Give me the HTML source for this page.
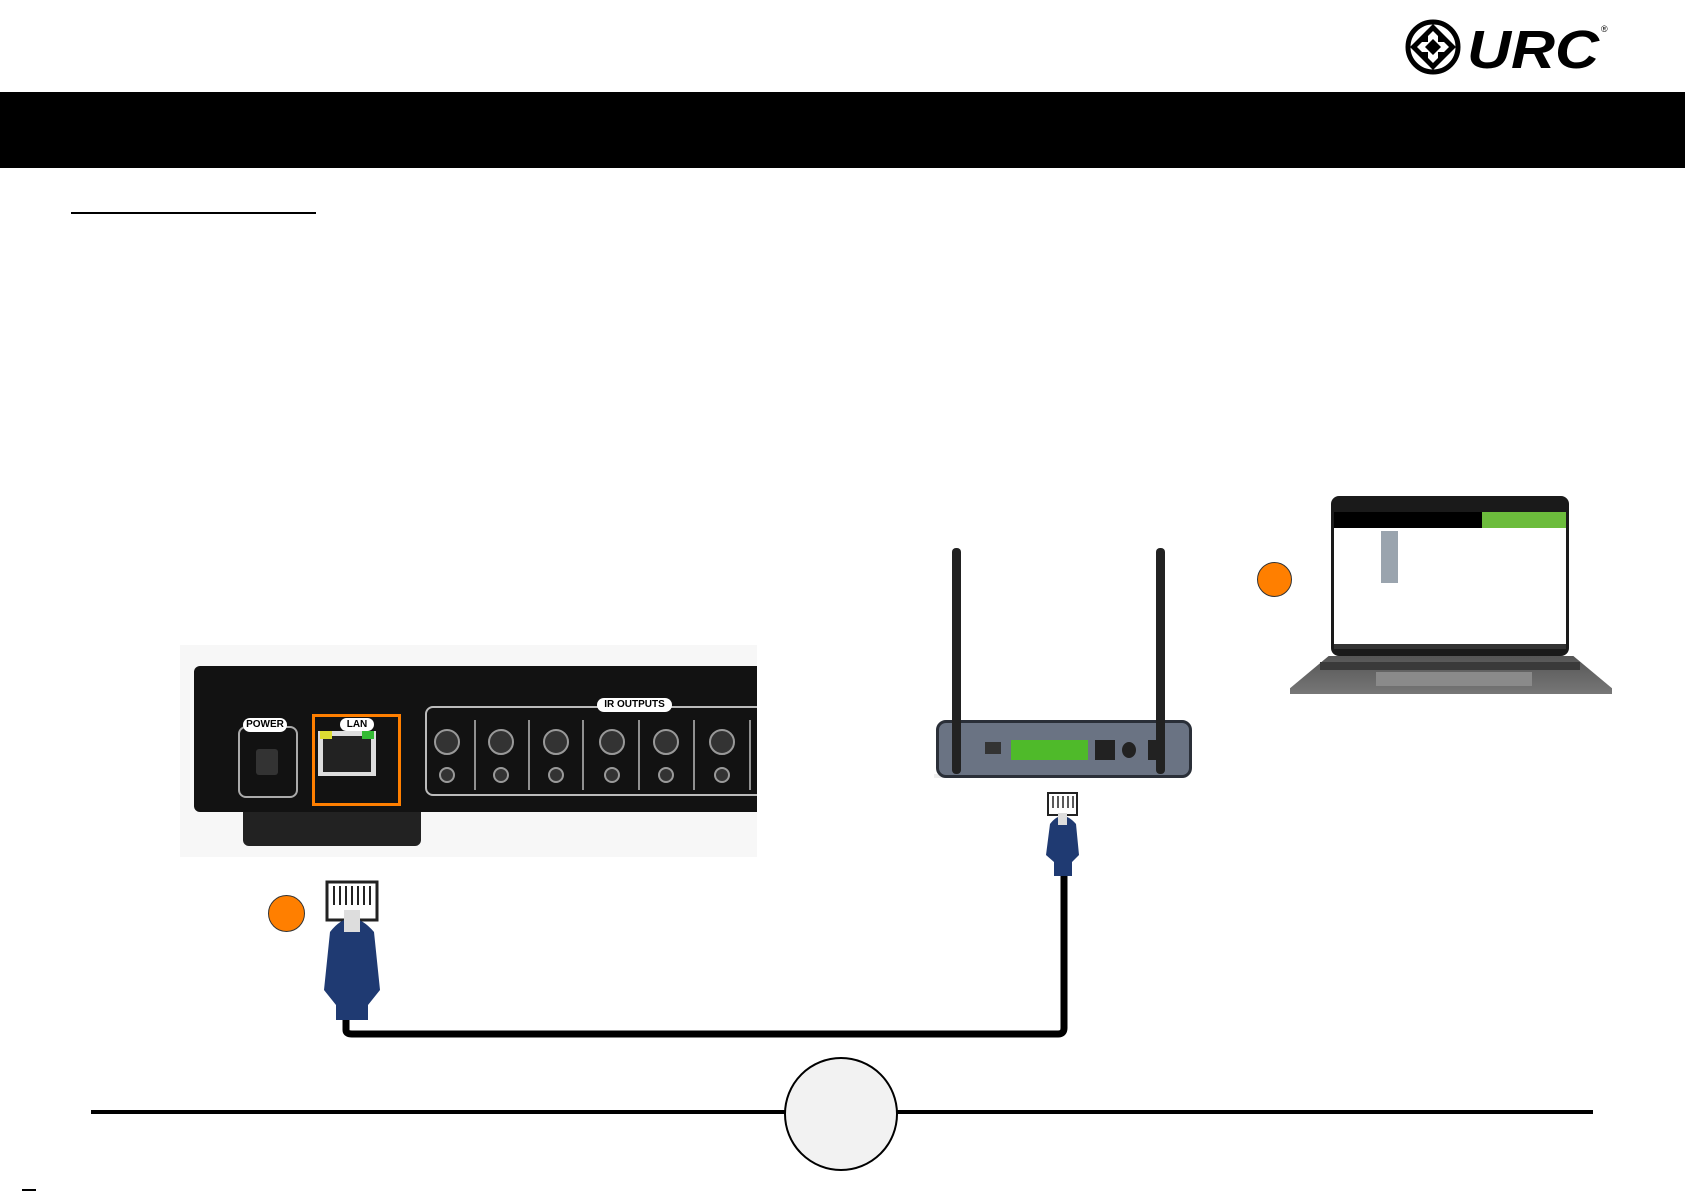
<!DOCTYPE html>
<html><head><meta charset="utf-8"><style>
body{margin:0;width:1685px;height:1192px;background:#fff;position:relative;overflow:hidden;font-family:"Liberation Sans",sans-serif}
.a{position:absolute}
</style></head><body>
<!-- logo -->
<svg class="a" style="left:1405px;top:18px" width="220" height="58" viewBox="0 0 220 58">
<circle cx="28" cy="29" r="25" fill="none" stroke="#000" stroke-width="5"/>
<polygon points="28,6 51,29 28,52 5,29" fill="#000"/>
<polygon points="28,13 44,29 28,45 12,29" fill="#fff"/>
<polygon points="28,21 36,29 28,37 20,29" fill="#000"/>
<rect x="17" y="18" width="6" height="6"/><rect x="33" y="18" width="6" height="6"/><rect x="17" y="34" width="6" height="6"/><rect x="33" y="34" width="6" height="6"/>
<text x="62" y="50" font-size="54" font-weight="bold" font-style="italic" font-family="Liberation Sans" textLength="132" lengthAdjust="spacingAndGlyphs">URC</text>
<text x="196" y="14" font-size="9">®</text>
</svg>
<div class="a" style="left:0;top:92px;width:1685px;height:76px;background:#000"></div>
<div class="a" style="left:71px;top:212px;width:245px;height:2px;background:#000"></div>

<!-- device -->
<div class="a" style="left:180px;top:645px;width:577px;height:212px;background:#f7f7f7;overflow:hidden">
<div class="a" style="left:63px;top:165px;width:178px;height:36px;background:#222;border-radius:0 0 6px 6px"></div>
<div class="a" style="left:14px;top:21px;width:563px;height:146px;background:#121212;border-radius:6px 0 0 6px"></div>
<div class="a" style="left:58px;top:81px;width:56px;height:68px;border:2px solid #aaa;border-radius:8px"></div>
<div class="a" style="left:76px;top:104px;width:22px;height:26px;background:#333;border-radius:3px"></div>
<div class="a" style="left:63px;top:73px;width:44px;height:14px;background:#fff;border-radius:7px;font-size:10px;font-weight:bold;text-align:center;line-height:14px">POWER</div>
<div class="a" style="left:132px;top:69px;width:83px;height:86px;border:3px solid #ff7f00"></div>
<div class="a" style="left:138px;top:86px;width:58px;height:45px;background:#ddd"></div>
<div class="a" style="left:143px;top:91px;width:48px;height:36px;background:#222"></div>
<div class="a" style="left:140px;top:86px;width:12px;height:8px;background:#dd3"></div>
<div class="a" style="left:182px;top:86px;width:12px;height:8px;background:#3b3"></div>
<div class="a" style="left:160px;top:73px;width:34px;height:13px;background:#fff;border-radius:7px;font-size:10px;font-weight:bold;text-align:center;line-height:13px">LAN</div>
<div class="a" style="left:245px;top:61px;width:380px;height:86px;border:2px solid #bbb;border-radius:8px"></div>
<div class="a" style="left:417px;top:53px;width:75px;height:14px;background:#fff;border-radius:7px;font-size:10px;font-weight:bold;text-align:center;line-height:14px">IR OUTPUTS</div>
<svg class="a" style="left:245px;top:75px" width="332" height="70">
<g fill="#333" stroke="#999" stroke-width="2">
<circle cx="22" cy="22" r="12"/><circle cx="76" cy="22" r="12"/><circle cx="131" cy="22" r="12"/><circle cx="187" cy="22" r="12"/><circle cx="241" cy="22" r="12"/><circle cx="297" cy="22" r="12"/>
<circle cx="22" cy="55" r="7"/><circle cx="76" cy="55" r="7"/><circle cx="131" cy="55" r="7"/><circle cx="187" cy="55" r="7"/><circle cx="241" cy="55" r="7"/><circle cx="297" cy="55" r="7"/></g>
<g stroke="#bbb" stroke-width="1.5"><line x1="50" y1="-12" x2="50" y2="72"/><line x1="104" y1="-12" x2="104" y2="72"/><line x1="158" y1="-12" x2="158" y2="72"/><line x1="214" y1="-12" x2="214" y2="72"/><line x1="269" y1="-12" x2="269" y2="72"/><line x1="325" y1="-12" x2="325" y2="72"/></g>
</svg>
</div>

<!-- router -->
<div class="a" style="left:934px;top:774px;width:250px;height:4px;background:#eee"></div>
<div class="a" style="left:936px;top:720px;width:250px;height:52px;background:#6a7383;border:3px solid #2a2f38;border-radius:10px"></div>
<div class="a" style="left:952px;top:548px;width:9px;height:226px;background:#222;border-radius:4px"></div>
<div class="a" style="left:1156px;top:548px;width:9px;height:226px;background:#222;border-radius:4px"></div>
<div class="a" style="left:1011px;top:740px;width:77px;height:20px;background:#4fba2a"></div>
<div class="a" style="left:985px;top:742px;width:16px;height:12px;background:#333"></div>
<div class="a" style="left:1095px;top:740px;width:20px;height:20px;background:#222"></div>
<div class="a" style="left:1122px;top:742px;width:14px;height:16px;background:#222;border-radius:50%"></div>
<div class="a" style="left:1148px;top:740px;width:12px;height:20px;background:#222"></div>

<!-- laptop -->
<div class="a" style="left:1331px;top:496px;width:238px;height:160px;background:#1a1a1a;border-radius:8px"></div>
<div class="a" style="left:1334px;top:512px;width:232px;height:136px;background:#fff"></div>
<div class="a" style="left:1334px;top:512px;width:148px;height:16px;background:#000"></div>
<div class="a" style="left:1482px;top:512px;width:84px;height:16px;background:#6cbc3c"></div>
<div class="a" style="left:1381px;top:531px;width:17px;height:52px;background:#9aa4ae"></div>
<div class="a" style="left:1334px;top:644px;width:232px;height:5px;background:#333"></div>
<div class="a" style="left:1290px;top:656px;width:322px;height:38px;background:linear-gradient(#555,#777);clip-path:polygon(12% 0,88% 0,100% 85%,100% 100%,0 100%,0 85%)"></div>
<div class="a" style="left:1320px;top:662px;width:260px;height:8px;background:#3a3a3a"></div>
<div class="a" style="left:1376px;top:672px;width:156px;height:14px;background:#8a8a8a"></div>

<!-- orange dots -->
<div class="a" style="left:1257px;top:562px;width:33px;height:33px;border-radius:50%;background:#ff7f00;border:1px solid #333"></div>
<div class="a" style="left:268px;top:895px;width:35px;height:35px;border-radius:50%;background:#ff7f00;border:1px solid #333"></div>

<!-- cable -->
<svg class="a" style="left:0;top:0" width="1685" height="1192">
<path d="M346 1015 V1030 Q346 1034 352 1034 H1058 Q1064 1034 1064 1028 V870" fill="none" stroke="#000" stroke-width="7"/>
<rect x="327" y="882" width="50" height="38" fill="#fff" stroke="#222" stroke-width="3"/>
<g stroke="#222" stroke-width="2"><line x1="334" y1="886" x2="334" y2="905"/><line x1="340" y1="886" x2="340" y2="905"/><line x1="346" y1="886" x2="346" y2="905"/><line x1="352" y1="886" x2="352" y2="905"/><line x1="358" y1="886" x2="358" y2="905"/><line x1="364" y1="886" x2="364" y2="905"/><line x1="370" y1="886" x2="370" y2="905"/></g>
<path d="M330 932 Q351 905 374 932 L380 990 L368 1005 L368 1020 L336 1020 L336 1005 L324 990 Z" fill="#1f3a72"/>
<rect x="344" y="910" width="16" height="22" fill="#ddd"/>
<rect x="1048" y="793" width="29" height="22" fill="#fff" stroke="#222" stroke-width="2"/>
<g stroke="#222" stroke-width="1.5"><line x1="1053" y1="796" x2="1053" y2="808"/><line x1="1058" y1="796" x2="1058" y2="808"/><line x1="1063" y1="796" x2="1063" y2="808"/><line x1="1068" y1="796" x2="1068" y2="808"/><line x1="1073" y1="796" x2="1073" y2="808"/></g>
<path d="M1050 824 Q1062 808 1076 824 L1079 855 L1072 862 L1072 876 L1054 876 L1054 862 L1046 855 Z" fill="#1f3a72"/>
<rect x="1058" y="813" width="9" height="12" fill="#ddd"/>
<line x1="91" y1="1112" x2="1593" y2="1112" stroke="#000" stroke-width="4"/>
<circle cx="841" cy="1114" r="56" fill="#f2f2f2" stroke="#000" stroke-width="2"/>
<line x1="22" y1="1190" x2="36" y2="1190" stroke="#000" stroke-width="2"/>
</svg>
</body></html>
